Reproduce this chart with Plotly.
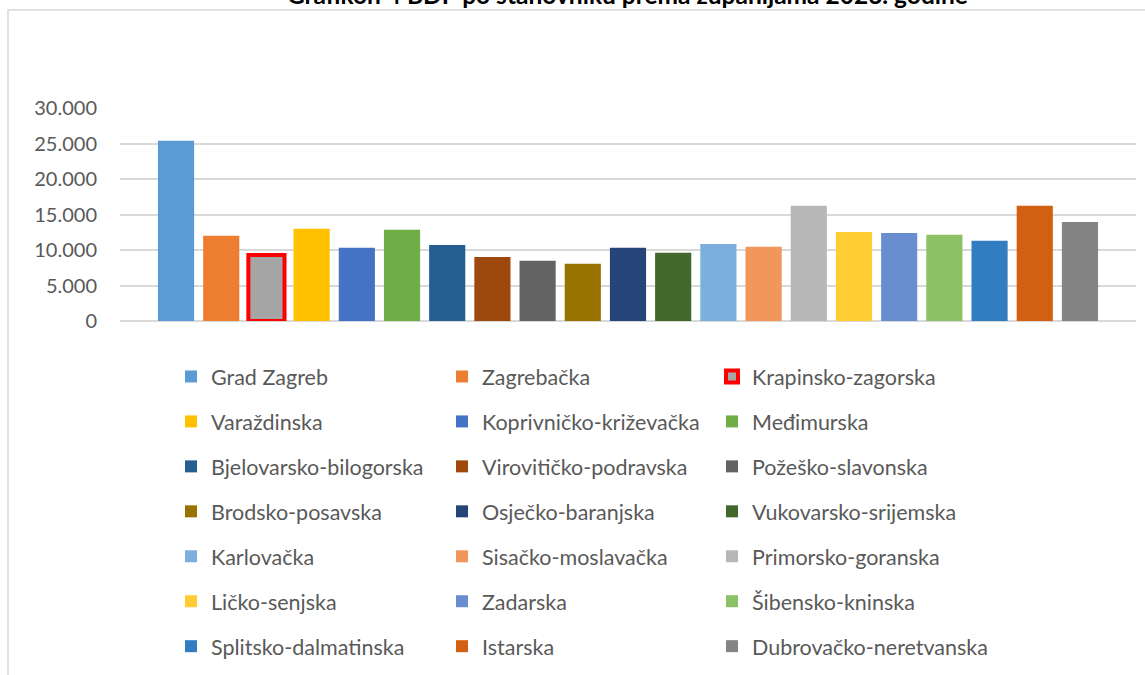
import plotly.graph_objects as go

categories = [
    "Grad Zagreb", "Zagrebačka", "Krapinsko-zagorska",
    "Varaždinska", "Koprivničko-križevačka", "Međimurska",
    "Bjelovarsko-bilogorska", "Virovitičko-podravska", "Požeško-slavonska",
    "Brodsko-posavska", "Osječko-baranjska", "Vukovarsko-srijemska",
    "Karlovačka", "Sisačko-moslavačka", "Primorsko-goranska",
    "Ličko-senjska", "Zadarska", "Šibensko-kninska",
    "Splitsko-dalmatinska", "Istarska", "Dubrovačko-neretvanska",
]
values = [
    25400, 12000, 9300,
    13000, 10300, 12850,
    10700, 9000, 8500,
    8050, 10300, 9600,
    10850, 10450, 16250,
    12550, 12400, 12150,
    11300, 16250, 13950,
]
colors = [
    "#5B9BD5", "#ED7D31", "#A5A5A5",
    "#FFC000", "#4472C4", "#70AD47",
    "#255E91", "#9E480E", "#636363",
    "#997300", "#264478", "#43682B",
    "#7CAFDD", "#F1975A", "#B7B7B7",
    "#FFCD33", "#698ED0", "#8CC168",
    "#327DC2", "#D26012", "#848484",
]
highlight = "Krapinsko-zagorska"
title_text = "Grafikon 4 BDP po stanovniku prema županijama 2023. godine"

W, H = 1145, 675
L, R, T, B = 120, 9, 108, 354
pw, ph = W - L - R, H - T - B

def px_x(p):
    return (p - L) / pw

def px_y(p):
    return (H - B - p) / ph

FONT = "Lato"
TXT = "#595959"
legends = ["legend", "legend2", "legend3"]

fig = go.Figure()
for i, (c, v, col) in enumerate(zip(categories, values, colors)):
    hl = c == highlight
    fig.add_trace(go.Bar(
        x=[c], y=[v], name=c,
        marker=dict(color=col,
                    line=dict(color="#FF0000" if hl else col, width=4 if hl else 0)),
        width=0.8,
        legend=legends[i % 3],
        legendgroup=c,
        showlegend=True,
    ))

leg_common = dict(
    orientation="v", yanchor="top", xanchor="left",
    font=dict(family=FONT, size=21.5, color=TXT),
    bgcolor="rgba(0,0,0,0)", borderwidth=0,
    tracegroupgap=14, itemwidth=30, traceorder="grouped",
)
y_leg = px_y(356)
fig.update_layout(
    width=W, height=H,
    margin=dict(l=L, r=R, t=T, b=B, pad=0, autoexpand=False),
    paper_bgcolor="white", plot_bgcolor="white",
    barmode="overlay",
    separators=",.",
    legend=dict(x=px_x(171), y=y_leg, **leg_common),
    legend2=dict(x=px_x(442), y=y_leg, **leg_common),
    legend3=dict(x=px_x(712), y=y_leg, **leg_common),
    xaxis=dict(type="category", categoryorder="array", categoryarray=categories,
               range=[-1.24, len(categories) - 1 + 1.24],
               showticklabels=False, showgrid=False, zeroline=False,
               showline=False, ticks=""),
    yaxis=dict(range=[0, 30000], dtick=5000, tickformat=",d",
               showgrid=True, gridcolor="#D9D9D9", gridwidth=2,
               zeroline=True, zerolinecolor="#D9D9D9", zerolinewidth=2,
               showline=False, ticks="", ticklabelstandoff=22,
               tickfont=dict(family=FONT, size=20, color=TXT)),
    showlegend=True,
)

# title (partly cut off at the top edge, as in the reference)
fig.add_annotation(text="<b>" + title_text + "</b>", xref="paper", yref="paper",
                   x=px_x(627), y=px_y(-5), xanchor="center", yanchor="middle",
                   showarrow=False, font=dict(family=FONT, size=24.5, color="#000000"))

# chart-area frame (partially visible in the reference)
fig.add_shape(type="rect", xref="paper", yref="paper",
              x0=px_x(8), x1=px_x(W + 20), y0=px_y(H + 20), y1=px_y(10),
              line=dict(color="#D9D9D9", width=1.5), fillcolor="rgba(0,0,0,0)",
              layer="below")

fig.write_html("out.html",
               config={"displayModeBar": False},
               post_script="document.body.style.margin='0';"
                           "document.body.style.overflow='hidden';")
